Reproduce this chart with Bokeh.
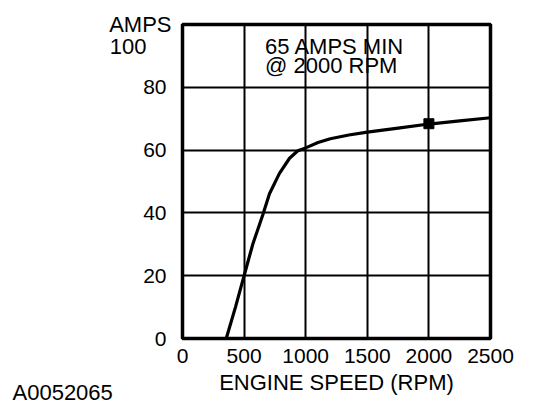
from bokeh.plotting import figure
from bokeh.models import Range1d, FixedTicker, Label, LinearAxis, Title
from bokeh.embed import file_html
from bokeh.resources import INLINE

# Data
rpm = [355, 430, 500, 571, 652, 706, 787, 869, 936, 1000, 1100, 1200, 1350, 1500, 1750, 2000, 2250, 2500]
amps = [0, 10, 20, 30.1, 39.4, 46.1, 52.6, 57.4, 59.8, 60.7, 62.4, 63.6, 64.8, 65.7, 67.0, 68.3, 69.3, 70.3]
spec_rpm = [2000]
spec_amps = [68.4]
x_ticks = [0, 500, 1000, 1500, 2000, 2500]
y_ticks = [0, 20, 40, 60, 80]
y_top = 100
note_lines = ["65 AMPS MIN", "@ 2000 RPM"]
y_unit = "AMPS"
figure_id = "A0052065"
x_title = "ENGINE SPEED (RPM)"

FONT = "Liberation Sans"

p = figure(frame_width=308, frame_height=314,
           min_border_left=182, min_border_right=44,
           min_border_top=24, min_border_bottom=70,
           x_range=Range1d(0, 2500), y_range=Range1d(0, y_top),
           output_backend="svg", toolbar_location=None)

# a second scale so the "100" label sits one line under the top edge
p.extra_y_ranges = {"top": Range1d(0, y_top * 1.075)}

p.background_fill_color = "white"
p.border_fill_color = "white"
p.outline_line_color = "black"
p.outline_line_width = 3.5
p.outline_line_alpha = 1.0

p.xaxis.ticker = FixedTicker(ticks=x_ticks)
p.yaxis.ticker = FixedTicker(ticks=y_ticks)

def plain(ax, size):
    ax.axis_line_color = None
    ax.major_tick_line_color = None
    ax.minor_tick_line_color = None
    ax.major_tick_out = 0
    ax.major_tick_in = 0
    ax.major_label_text_font = FONT
    ax.major_label_text_font_size = size
    ax.major_label_text_color = "black"

plain(p.xaxis[0], "21px")
plain(p.yaxis[0], "21px")

p.xaxis.major_label_standoff = 10
p.yaxis.major_label_standoff = 16
p.xaxis.axis_label = x_title
p.xaxis.axis_label_text_font = FONT
p.xaxis.axis_label_text_font_size = "22px"
p.xaxis.axis_label_text_font_style = "normal"
p.xaxis.axis_label_text_color = "black"
p.xaxis.axis_label_standoff = 4

# "100" label (left of the numeric axis)
ax100 = LinearAxis(y_range_name="top", ticker=FixedTicker(ticks=[y_top]))
plain(ax100, "22px")
ax100.major_label_standoff = -6
p.add_layout(ax100, "left")

# "AMPS" label at the top edge
ax_unit = LinearAxis(ticker=FixedTicker(ticks=[y_top]), major_label_overrides={y_top: y_unit})
plain(ax_unit, "22px")
ax_unit.major_label_standoff = -65
p.add_layout(ax_unit, "left")

p.xgrid.ticker = FixedTicker(ticks=x_ticks[1:-1])
p.ygrid.ticker = FixedTicker(ticks=y_ticks[1:])
for g in (p.xgrid, p.ygrid):
    g.grid_line_color = "black"
    g.grid_line_width = 2
    g.grid_line_alpha = 1.0

p.line(rpm, amps, line_color="black", line_width=3.2)
p.scatter(spec_rpm, spec_amps, marker="square", size=10, color="black")

# Note inside the plot
for t, yy in zip(note_lines, [93.0, 86.8]):
    p.add_layout(Label(x=670, y=yy, text=t, text_font=FONT, text_font_size="22px",
                       text_align="left", text_baseline="middle", text_color="black"))

# Figure id, bottom left
p.add_layout(Title(text=figure_id, align="left", vertical_align="top", offset=-170,
                   standoff=-36, text_font=FONT, text_font_size="22px",
                   text_font_style="normal", text_color="black"), "below")

open("out.html", "w").write(file_html(p, INLINE))
